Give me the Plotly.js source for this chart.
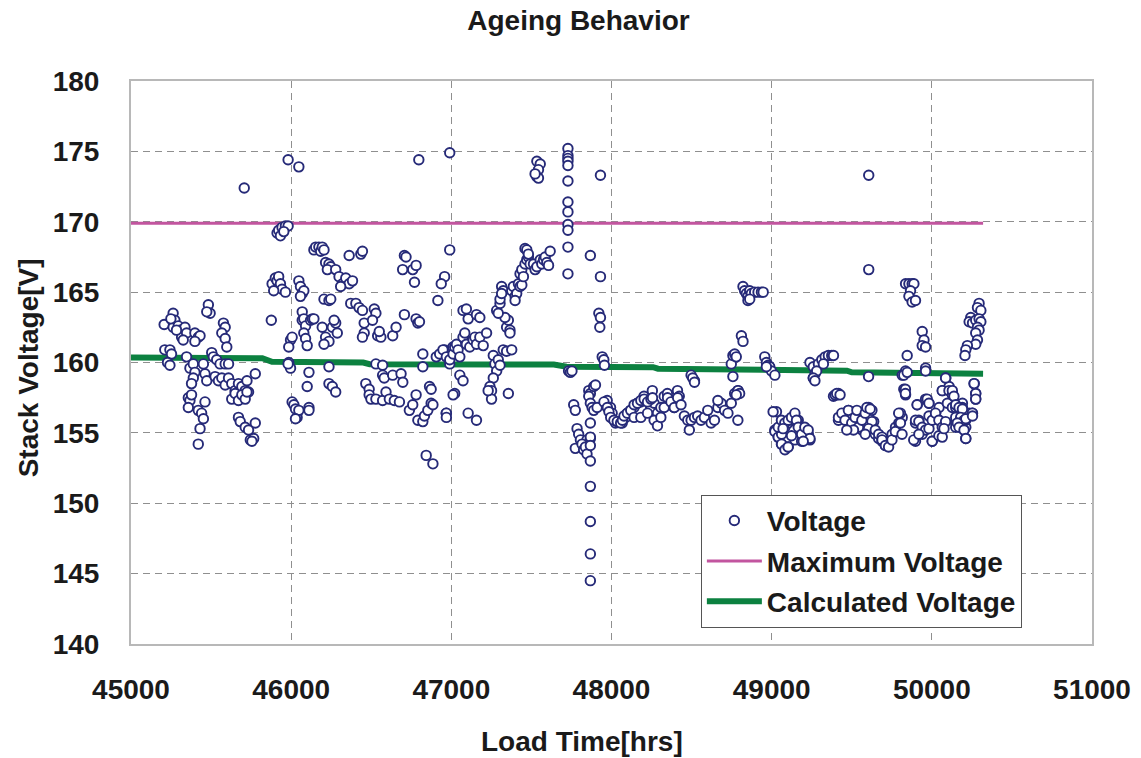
<!DOCTYPE html>
<html>
<head>
<meta charset="utf-8">
<script src="https://cdn.plot.ly/plotly-3.0.1.min.js"></script>
<style>
  html, body { margin: 0; padding: 0; background: #ffffff; }
  #chart { width: 1141px; height: 758px; }
</style>
</head>
<body>
<div id="chart"></div>
<script>
// Measured stack voltage over load time
const loadHours = [
  45207,45263,45274,45263,45295,45305,45316,45337,45347,45326,45284,45249,
  45211,45243,45253,45228,45243,45347,45368,45389,45399,45389,45378,45452,45462,45473,
  45358,45368,45378,45358,45420,45441,45452,45431,45420,45462,
  45399,45420,45431,45399,45483,45494,45473,
  45577,45588,45567,45588,45598,45504,45514,45535,45556,45588,45609,
  45525,45546,45567,45588,45609,45629,45650,45671,45692,45713,45724,45734,45776,
  45629,45650,45671,45692,45713,45724,
  45671,45682,45713,45734,45745,45766,45776,45755,
  45707,45876,
  45881,45901,45912,45922,45933,45943,45964,45891,
  45912,45922,45943,45964,45981,45933,45954,
  45981,46048,
  45996,45985,46006,45985,45996,45981,
  46006,46017,46027,46037,46048,46027,46111,46111,
  46048,46058,46069,46079,46058,
  46069,46069,46079,46090,46121,46132,46079,46090,46100,
  46111,46100,
  46142,46194,46215,46236,46205,46257,46278,46288,46268,
  46142,46153,46173,46184,46194,46205,
  46215,46236,46247,46226,
  46278,46299,46320,46341,46362,46383,46309,
  46362,46435,46445,
  46205,46236,46247,
  46236,46236,46257,46278,
  46372,46404,46424,46445,46456,46456,46445,46519,46529,46508,
  46540,46560,46550,46634,46655,46707,
  46780,46791,46801,
  46529,46571,46571,46581,46634,46686,46697,
  46466,46487,46487,46498,46529,46571,46592,46613,46644,46676,
  46707,46717,46696,46759,46780,46770,
  46738,46759,46780,46791,46822,46832,46853,46874,46885,46864,46874,
  46822,46822,
  46843,46885,
  46797,
  46958,46937,46916,
  46990,46990,
  46906,46927,46958,46979,46990,47010,47021,46968,
  46948,46969,46990,47011,47021,47032,47042,47053,47073,47084,47094,47115,47136,47147,47157,47178,47199,47220,
  47073,47094,47105,47157,47178,
  47053,47073,47011,
  46969,46969,47105,47157,
  47262,47272,47283,47262,47293,47304,
  47241,47251,47251,47230,47356,
  47324,47345,47377,
  47345,47366,47366,47356,47335,
  47283,47293,47304,47304,47314,47324,47314,
  47377,47387,47398,47408,47398,47419,47429,47440,
  47429,47440,47450,47460,47471,47481,47492,47460,47471,47481,
  47513,47523,47534,47555,47565,47576,47586,47596,47607,47617,
  47534,47555,47544,47534,47544,47523,
  47728,47728,47728,47728,47728,47728,47728,47728,47728,47728,47728,47728,
  47732,47743,47753,
  47931,47868,47931,
  47921,47931,47927,
  47942,47952,47956,
  47764,47774,
  47858,47868,47858,47889,47900,47868,47879,47889,47910,
  47785,47795,47806,47827,47847,47868,47868,
  47774,47816,47826,47837,47847,47868,47868,47868,
  47868,47868,47868,47868,
  47973,47994,48004,48015,48025,48046,48067,48088,48098,48119,48140,48161,48182,48203,48224,48245,48255,48266,48287,48308,48329,48349,48370,48391,48412,48423,
  47953,47974,47984,47995,48015,48036,48057,48068,48078,48099,48120,48141,48162,48183,48204,48225,48246,48256,
  48141,48183,48225,48266,48287,48308,48329,48350,48371,48392,48413,48434,48455,48476,48486,48497,48518,48538,48559,48580,48601,48622,48643,48664,48685,48706,48727,48748,48769,48789,48789,48664,
  48497,48518,48507,48518,
  48758,48748,48758,48769,48779,
  48790,48800,48779,
  48811,48821,
  48821,48831,48842,48852,48863,48873,48894,48915,48936,48947,48852,48863,
  48957,48967,48978,48988,48999,49020,48967,
  49030,49009,49020,49041,49061,
  49020,49041,49062,49083,49103,49124,49145,49166,49187,49208,49229,49239,49062,49083,49103,49145,49187,49041,
  49061,49082,49103,49124,49145,49155,49166,49187,49207,49228,49239,49103,49197,49124,49071,
  49239,49260,49260,49271,49292,49313,49334,49354,49375,49386,49281,49323,
  49386,49407,49417,
  49417,49438,49459,49480,49501,49522,49543,49564,49585,49606,49626,49606,49637,49647,49668,49689,49710,49731,49752,49773,49794,49815,49804,
  49260,49270,49396,49406,49427,49417,49438,49458,49479,49500,49521,49532,49542,49563,49584,49594,49615,49626,49605,49647,49668,49689,49689,49710,49730,49751,49772,49793,49804,49814,49584,49511,49469,
  49606,49605,49606,
  49836,49857,49877,49888,49867,49857,49877,49898,
  49940,49951,49940,49961,
  49846,49815,49836,49961,49825,49836,
  49825,49846,49961,49835,49835,
  49909,49961,49982,49982,50024,50045,50066,49898,49919,49940,49898,50003,50045,
  49908,49971,49982,49898,49919,49940,49961,49982,50002,50023,50044,50065,50086,49887,49919,50002,50044,50065,50076,
  50087,50066,50108,50129,50149,50170,50191,50212,50233,50149,50170,50212,50254,
  50086,50065,50107,50128,50097,50128,50149,50170,50191,50149,50191,50212,50149,50201,50253,50212,50264,50274,50274,
  50295,50285,50306,50243,50233,50254,50274,50295,50306,50285,50295,50274,50285,50274,50222,50212,50207,
  50264,50274,50274,
  50128,50138,50149,50170,50191,50180,50201,50212,50159,50170,50201,50212,50254
];
const stackVolts = [
  162.7,163.5,163.0,162.5,162.6,162.3,161.8,162.5,162.1,161.6,162.3,163.1,
  160.9,160.9,160.6,160.0,159.8,160.4,159.6,159.9,159.3,158.9,158.5,159.9,159.2,158.7,
  157.5,157.3,157.7,156.8,156.6,156.4,156.0,155.3,154.2,157.2,
  162.1,161.8,161.9,161.5,164.1,163.5,163.6,
  162.8,162.5,162.1,161.7,161.1,160.7,160.4,160.2,159.9,159.9,159.9,
  159.0,158.7,158.9,158.4,158.9,158.5,158.0,158.5,158.3,158.0,158.7,157.9,159.2,
  157.4,157.8,157.3,157.7,157.4,157.9,
  156.1,155.8,155.4,155.2,154.5,154.6,155.7,154.4,
  172.4,163.0,
  165.6,166.0,165.8,166.1,165.6,165.2,165.0,165.1,
  169.2,169.4,169.6,169.7,169.7,169.0,169.3,
  174.4,173.9,
  161.6,161.1,161.8,160.0,159.6,159.9,
  157.2,157.0,156.7,156.1,156.6,156.0,156.8,156.6,
  165.8,165.4,164.9,165.1,164.7,
  163.6,163.0,163.1,162.6,163.0,163.1,162.1,161.7,161.2,
  159.3,158.3,
  163.1,162.5,161.8,161.5,161.3,162.5,162.8,162.1,163.0,
  168.0,168.2,168.2,167.9,168.2,168.0,
  167.1,167.0,166.8,166.6,
  166.6,166.1,165.6,166.0,165.6,165.8,165.4,
  167.6,167.7,167.9,
  164.5,164.4,164.5,
  159.7,158.5,158.3,157.9,
  164.2,164.2,163.9,163.7,162.8,162.1,161.8,163.8,163.5,163.0,
  161.9,161.8,162.2,161.9,162.5,163.4,
  163.1,162.8,162.9,
  159.9,159.8,159.1,158.9,159.1,159.2,158.6,
  158.5,158.1,157.7,157.4,157.4,157.3,157.9,157.4,157.3,157.2,
  167.6,167.5,166.6,166.6,166.9,165.7,
  156.6,157.0,157.7,155.9,155.8,156.2,156.6,157.1,157.0,158.3,158.1,
  160.6,159.7,
  153.4,152.8,
  174.4,
  166.1,165.6,164.4,
  168.0,174.9,
  160.4,160.6,160.9,160.4,159.9,161.1,157.8,156.4,
  160.9,160.4,160.2,160.6,161.1,161.3,160.9,160.4,161.8,162.1,161.3,161.1,161.6,161.8,161.3,161.8,161.2,162.1,
  163.7,163.8,163.1,163.4,163.2,
  159.1,158.7,157.7,
  156.4,156.1,156.4,155.9,
  160.5,159.9,159.4,158.9,160.2,159.8,
  158.3,158.0,157.4,158.0,157.8,
  160.9,160.8,160.9,
  162.5,162.3,162.1,163.0,163.2,
  163.7,163.5,164.2,164.5,165.4,165.1,164.9,
  165.1,165.4,164.7,164.9,164.4,165.6,165.4,165.5,
  166.3,166.6,166.1,167.0,167.3,167.5,167.0,168.1,168.0,167.7,
  167.0,166.6,166.8,167.3,167.0,167.3,167.5,167.1,166.9,167.9,
  174.3,174.1,173.7,173.2,173.1,173.4,
  175.2,174.7,174.5,174.3,174.0,172.9,171.4,170.7,169.8,169.4,168.2,166.3,
  159.4,159.3,159.4,
  173.3,167.6,166.1,
  163.5,163.2,162.5,
  160.4,160.2,159.8,
  157.0,156.6,
  158.0,157.8,157.6,158.3,158.4,157.1,156.8,156.6,156.8,
  155.3,154.9,154.5,154.2,154.5,154.6,155.7,
  153.9,154.2,153.8,154.0,153.5,154.7,154.1,153.0,
  151.2,148.7,146.4,144.5,
  157.3,156.8,156.4,155.9,155.7,155.8,155.7,156.1,156.4,156.6,156.8,157.1,157.2,157.6,157.3,156.8,158.0,157.1,156.4,156.8,157.6,157.8,157.3,156.8,158.0,157.6,
  157.2,156.8,156.5,156.1,155.9,155.8,155.7,155.9,156.2,156.4,156.6,157.0,157.1,157.3,157.4,157.2,157.4,157.5,
  156.1,156.1,156.4,155.9,155.5,156.1,156.8,157.5,157.2,156.8,157.5,157.0,156.2,155.9,155.2,155.9,156.1,156.2,155.9,156.1,156.6,155.7,155.9,156.8,157.1,156.6,156.4,157.1,157.8,158.0,155.9,157.3,
  159.1,158.7,158.9,158.6,
  159.0,159.9,160.5,160.6,160.4,
  158.0,157.8,157.7,
  161.9,161.5,
  165.4,165.1,164.9,164.7,165.1,164.9,165.0,165.0,165.0,165.0,164.4,164.5,
  160.4,160.0,159.8,159.7,159.4,159.1,159.7,
  156.5,156.5,155.2,154.7,154.2,
  155.1,154.7,154.9,155.4,155.7,155.9,156.1,155.9,155.4,155.2,154.9,154.5,154.2,153.8,154.0,154.5,154.4,155.4,
  155.9,155.7,155.9,156.1,156.4,155.9,155.4,154.9,155.4,155.2,154.6,154.0,154.4,154.8,155.3,
  160.0,159.7,158.9,159.2,159.9,160.2,160.4,160.5,160.5,160.5,159.4,159.9,
  157.6,157.7,157.8,
  155.9,156.1,156.4,156.6,156.1,155.9,155.4,155.2,155.7,156.1,156.6,156.8,155.8,154.9,154.6,154.4,154.1,154.5,154.9,155.4,155.7,156.1,156.4,
  158.9,158.7,157.7,157.8,157.7,156.1,156.4,155.9,156.6,155.7,156.1,156.6,155.4,155.9,156.4,156.8,156.7,155.8,155.3,155.2,154.9,154.7,154.5,154.1,154.0,154.5,155.1,156.4,155.7,154.9,154.9,155.2,155.2,
  166.6,159.0,173.3,
  165.6,165.6,165.6,165.6,165.1,164.7,164.3,164.4,
  162.2,161.6,161.2,161.1,
  160.5,159.1,159.4,159.6,158.1,157.7,
  159.1,159.3,159.4,158.1,157.8,
  157.0,157.4,157.1,156.2,156.4,155.9,155.7,155.7,155.9,154.9,154.4,154.4,156.8,
  157.0,157.4,157.1,155.9,155.8,155.4,155.2,155.3,155.9,156.4,155.9,155.4,155.8,154.5,154.9,154.4,154.8,154.7,155.3,
  158.9,158.0,158.3,157.8,157.1,156.8,157.1,156.4,156.4,155.7,155.9,155.4,156.4,
  158.9,158.0,158.0,157.7,157.1,156.8,156.8,156.8,156.8,156.1,155.9,155.9,155.4,155.2,156.4,154.6,158.5,157.8,157.4,
  164.2,163.9,163.7,163.2,162.9,162.8,163.0,163.1,162.9,162.5,162.3,162.1,161.6,161.3,161.2,160.9,160.5,
  158.5,157.8,157.4,
  158.0,157.6,157.0,156.8,156.7,156.1,155.9,156.0,155.7,155.4,155.2,154.6,156.2
];

// Rated upper voltage limit
const maxHours = [45000, 50320];
const maxVolts = [169.9, 169.9];

// Model voltage, stepping down slowly with load time
const calcHours = [45000, 45820, 45880, 46450, 46490, 47640, 47720, 48260, 48290, 48870, 48900, 49470, 49500, 50080, 50110, 50320];
const calcVolts = [160.35, 160.3, 160.05, 160.0, 159.88, 159.85, 159.7, 159.67, 159.56, 159.54, 159.44, 159.42, 159.3, 159.28, 159.2, 159.2];

const xTicks = [45000, 46000, 47000, 48000, 49000, 50000, 51000];
const yTicks = [140, 145, 150, 155, 160, 165, 170, 175, 180];

const boldFont = (size) => ({ family: 'Liberation Sans, Arial, sans-serif', size: size, color: '#1a1a1a', weight: 'bold' });

const traces = [
  {
    x: maxHours, y: maxVolts, type: 'scatter', mode: 'lines',
    name: 'Maximum Voltage', legendrank: 2, legendgroup: 'max',
    line: { color: '#c2559f', width: 3 }
  },
  {
    x: calcHours, y: calcVolts, type: 'scatter', mode: 'lines',
    name: 'Calculated Voltage', legendrank: 3, legendgroup: 'calc',
    line: { color: '#0c8140', width: 6, shape: 'linear' }
  },
  {
    x: loadHours, y: stackVolts, type: 'scatter', mode: 'markers',
    name: 'Voltage', legendrank: 1, legendgroup: 'volt',
    marker: { symbol: 'circle', size: 9.5, color: '#ffffff', line: { color: '#262a78', width: 1.9 } }
  }
];

const layout = {
  width: 1141, height: 758,
  paper_bgcolor: '#ffffff', plot_bgcolor: '#ffffff',
  margin: { l: 131, r: 49, t: 81, b: 114 },
  font: boldFont(28),
  title: { text: 'Ageing Behavior', font: boldFont(28), x: 0.507, xref: 'container', xanchor: 'center', y: 0.974, yanchor: 'middle' },
  showlegend: true,
  legend: {
    x: 0.593, y: 0.265, xanchor: 'left', yanchor: 'top',
    bgcolor: '#ffffff', bordercolor: '#555555', borderwidth: 1,
    font: boldFont(28), itemwidth: 55, tracegroupgap: 1, traceorder: 'grouped'
  },
  annotations: [
    { text: 'Load Time[hrs]', font: boldFont(28), showarrow: false,
      xref: 'paper', yref: 'paper', x: 0.469, y: -0.174, xanchor: 'center', yanchor: 'middle' },
    { text: 'Stack Voltage[V]', font: boldFont(28), showarrow: false, textangle: -90,
      xref: 'paper', yref: 'paper', x: -0.107, y: 0.49, xanchor: 'center', yanchor: 'middle' }
  ],
  xaxis: {
    range: [45000, 51000], tickvals: xTicks, ticktext: xTicks.map(String),
    showgrid: true, gridcolor: '#8f8f8f', gridwidth: 1, griddash: '7px,5px',
    showline: true, mirror: true, linecolor: '#b8b8b8', linewidth: 2,
    zeroline: false, ticks: '', ticklabelstandoff: 19,
    tickfont: boldFont(28)
  },
  yaxis: {
    range: [140, 180], tickvals: yTicks, ticktext: yTicks.map(String),
    showgrid: true, gridcolor: '#8f8f8f', gridwidth: 1, griddash: '7px,5px',
    showline: true, mirror: true, linecolor: '#b8b8b8', linewidth: 2,
    zeroline: false, ticks: '', ticklabelstandoff: 24,
    tickfont: boldFont(28)
  }
};

Plotly.newPlot('chart', traces, layout, { displayModeBar: false, staticPlot: true });
</script>
</body>
</html>
